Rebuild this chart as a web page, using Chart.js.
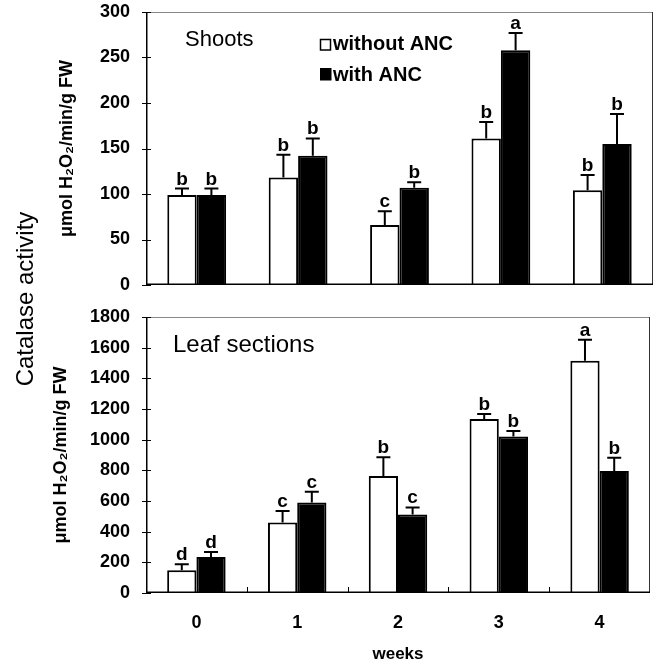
<!DOCTYPE html>
<html><head><meta charset="utf-8">
<script src="https://cdn.jsdelivr.net/npm/chart.js@4.4.0/dist/chart.umd.min.js"></script>
<style>
html,body{margin:0;padding:0;background:#fff;width:656px;height:666px;overflow:hidden;}
#c1{position:absolute;left:0;top:0;}
#c2{position:absolute;left:0;top:300px;}
#ylab{position:absolute;left:-124px;top:284px;width:300px;height:30px;line-height:30px;text-align:center;transform:rotate(-90deg);font:24px "Liberation Sans",Arial,sans-serif;color:#000;}
</style></head>
<body>
<canvas id="c1" width="656" height="300"></canvas>
<canvas id="c2" width="656" height="366"></canvas>
<div id="ylab">Catalase activity</div>
<script>
const weeks = ['0','1','2','3','4'];
const seriesNames = ['without ANC','with ANC'];
const panelTitles = ['Shoots','Leaf sections'];
const yTitle = 'μmol H₂O₂/min/g FW';
const xTitle = 'weeks';

const shootsWithout = [99,118,66,161,104];
const shootsWithoutErr = [7,25,15,18,17];
const shootsWith = [99,142,107,258,155];
const shootsWithErr = [7,19,6,19,33];
const shootsWithoutLetters = ['b','b','c','b','b'];
const shootsWithLetters = ['b','b','b','a','b'];

const leafWithout = [148,460,763,1135,1514];
const leafWithoutErr = [40,74,122,33,138];
const leafWith = [235,591,512,1020,795];
const leafWithErr = [33,69,46,37,87];
const leafWithoutLetters = ['d','c','b','b','a'];
const leafWithLetters = ['d','c','c','b','b'];

const shootsAxis = [0,300,50];
const leafAxis = [0,1800,200];

const FONT = '"Liberation Sans", Arial, sans-serif';

const errPlugin = {
  id:'err',
  afterDatasetsDraw(chart){
    const ctx = chart.ctx, ys = chart.scales.y;
    chart.data.datasets.forEach((ds,i)=>{
      const meta = chart.getDatasetMeta(i);
      meta.data.forEach((bar,j)=>{
        const top = ys.getPixelForValue(ds.data[j]+ds.errors[j]);
        ctx.save();
        ctx.strokeStyle='#000'; ctx.lineWidth=2;
        ctx.beginPath();
        ctx.moveTo(bar.x, bar.y); ctx.lineTo(bar.x, top);
        ctx.moveTo(bar.x-7, top); ctx.lineTo(bar.x+7, top);
        ctx.stroke();
        ctx.fillStyle='#000'; ctx.font='bold 19px '+FONT;
        ctx.textAlign='center'; ctx.textBaseline='alphabetic';
        ctx.fillText(ds.letters[j], bar.x, top-4);
        ctx.restore();
      });
    });
  }
};

const framePlugin = {
  id:'frame',
  afterDraw(chart, args, opts){
    const ctx = chart.ctx, a = chart.chartArea;
    const ys = chart.scales.y, xs = chart.scales.x;
    ctx.save();
    ctx.strokeStyle='#888'; ctx.lineWidth=1;
    ctx.beginPath(); ctx.moveTo(a.left, a.top+0.5); ctx.lineTo(a.right, a.top+0.5); ctx.stroke();
    ctx.strokeStyle='#333';
    ctx.beginPath(); ctx.moveTo(a.right-0.5, a.top); ctx.lineTo(a.right-0.5, a.bottom); ctx.stroke();
    ctx.strokeStyle='#000'; ctx.lineWidth=1.5;
    ctx.beginPath(); ctx.moveTo(a.left+0.75, a.top); ctx.lineTo(a.left+0.75, a.bottom-0.75); ctx.lineTo(a.right, a.bottom-0.75); ctx.stroke();
    ctx.lineWidth=1;
    ys.ticks.forEach(t=>{
      const y = Math.round(ys.getPixelForValue(t.value))+0.5;
      ctx.beginPath(); ctx.moveTo(a.left-4,y); ctx.lineTo(a.left+5,y); ctx.stroke();
    });
    if (opts.xTicks) {
      for (let k=1;k<chart.data.labels.length;k++){
        const x = Math.round((xs.getPixelForValue(k-1)+xs.getPixelForValue(k))/2)+0.5;
        ctx.beginPath(); ctx.moveTo(x,a.bottom); ctx.lineTo(x,a.bottom-6); ctx.stroke();
      }
    }
    ctx.fillStyle='#000';
    ctx.textAlign='left'; ctx.textBaseline='alphabetic';
    ctx.font = opts.titleSize+'px '+FONT;
    ctx.fillText(opts.title, opts.titleX, opts.titleY);
    if (opts.legend) {
      ctx.font='bold 20px '+FONT;
      const ds = chart.data.datasets;
      ctx.lineWidth=1.5;
      ctx.fillStyle='#fff'; ctx.fillRect(320.5,39.5,10,10.5);
      ctx.strokeRect(320.5,39.5,10,10.5);
      ctx.fillStyle='#000';
      ctx.fillText(ds[0].label, 333, 50);
      ctx.fillRect(320,68,11.5,12.5);
      ctx.fillText(ds[1].label, 333, 80.5);
    }
    ctx.restore();
  }
};

function zeroPad(s){ s.paddingTop = 0; s.paddingBottom = 0; s.paddingLeft = 0; s.paddingRight = 0; }

function makeChart(id, d0, e0, l0, d1, e1, l1, axis, opts){
  return new Chart(document.getElementById(id), {
    type:'bar',
    data:{
      labels: weeks,
      datasets:[
        {label:seriesNames[0], data:d0, errors:e0, letters:l0, backgroundColor:'#fff', borderColor:'#000', borderWidth:2, categoryPercentage:0.58, barPercentage:1},
        {label:seriesNames[1], data:d1, errors:e1, letters:l1, backgroundColor:'#000', borderColor:'#000', borderWidth:2, categoryPercentage:0.58, barPercentage:1}
      ]
    },
    options:{
      responsive:false, animation:false,
      layout:{padding:opts.padding},
      plugins:{legend:{display:false}, tooltip:{enabled:false}, frame:opts.frame},
      scales:{
        x: opts.x,
        y:{
          min:axis[0], max:axis[1],
          ticks:{stepSize:axis[2], padding:16, color:'#000', font:{family:FONT, size:18, weight:'bold'}, callback:(v)=>String(v)},
          grid:{display:false, drawTicks:false},
          border:{display:false},
          title:{display:true, text:yTitle, color:'#000', font:{family:FONT, size:18, weight:'bold'}, padding:{top:opts.yTitlePad, bottom:0}},
          afterFit(s){ s.width = 146; zeroPad(s); }
        }
      }
    },
    plugins:[errPlugin, framePlugin]
  });
}

makeChart('c1', shootsWithout, shootsWithoutErr, shootsWithoutLetters, shootsWith, shootsWithErr, shootsWithLetters, shootsAxis, {
  padding:{left:0,right:3,top:12,bottom:15},
  yTitlePad:56,
  x:{display:false, grid:{display:false}, afterFit(s){ zeroPad(s); }},
  frame:{xTicks:false, legend:true, title:panelTitles[0], titleSize:22, titleX:185, titleY:46}
});

makeChart('c2', leafWithout, leafWithoutErr, leafWithoutLetters, leafWith, leafWithErr, leafWithLetters, leafAxis, {
  padding:{left:0,right:6,top:17,bottom:0},
  yTitlePad:50,
  x:{
    ticks:{padding:19, color:'#000', font:{family:FONT, size:18, weight:'bold'}},
    grid:{display:false, drawTicks:false},
    border:{display:false},
    title:{display:true, text:xTitle, color:'#000', font:{family:FONT, size:17, weight:'bold'}, padding:{top:0,bottom:1}},
    afterFit(s){ s.height = 73; zeroPad(s); }
  },
  frame:{xTicks:true, legend:false, title:panelTitles[1], titleSize:24, titleX:173, titleY:52}
});
</script>
</body></html>
